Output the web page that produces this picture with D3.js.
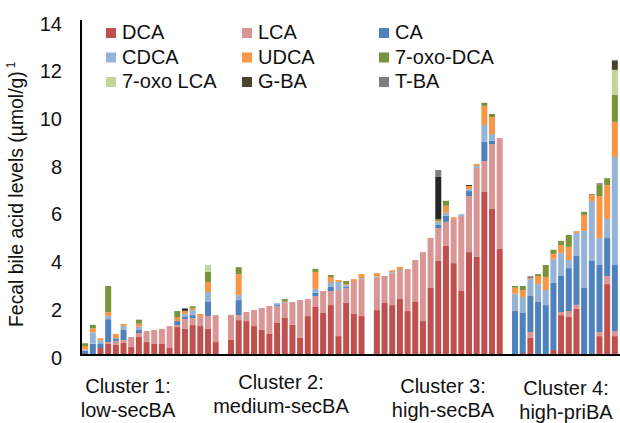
<!DOCTYPE html>
<html>
<head>
<meta charset="utf-8">
<script src="https://cdn.jsdelivr.net/npm/d3@7"></script>
<style>
  html, body { margin: 0; padding: 0; background: #fff; }
  svg { display: block; }
  text { font-family: "Liberation Sans", Arial, Helvetica, sans-serif; fill: #111; }
</style>
</head>
<body>
<svg id="chart" width="620" height="423"></svg>
<script>
// ---- Data -------------------------------------------------------------
const seriesNames = ["DCA", "LCA", "CA", "CDCA", "UDCA", "7-oxo-DCA", "7-oxo LCA", "G-BA", "T-BA"];
const seriesColors = ["#C0504D", "#DA9694", "#4F81BD", "#95B3D7", "#F79646", "#77933C", "#C3D69B", "#4A4529", "#808080"];

const clusterTitles = ["Cluster 1:", "Cluster 2:", "Cluster 3:", "Cluster 4:"];
const clusterGroups = ["low-secBA", "medium-secBA", "high-secBA", "high-priBA"];

const yTicks = [0, 2, 4, 6, 8, 10, 12, 14];

// µmol/g per sample, one sub-array per cluster
const DCA = [
  [0, 0, 0.25, 0.42, 0.38, 0.46, 0.29, 0.71, 0.5, 0.42, 0.42, 0.25, 1.13, 1.05, 1.21, 1.17, 1.05, 0.5],
  [0.59, 1.42, 1.38, 1.17, 1.01, 0.84, 1.30, 1.51, 1.22, 0.67, 1.59, 1.97, 1.72, 2.05, 0.75, 2.14, 1.68, 1.59],
  [1.84, 2.14, 2.05, 2.31, 1.80, 2.18, 1.38, 2.77, 3.90, 4.53, 3.81, 2.64, 4.27, 4.07, 6.79, 6.08, 4.40],
  [0, 0.04, 0.67, 0, 0, 0.17, 1.63, 1.55, 1.89, 0, 0, 0.75, 2.93, 0.75]
];
const LCA = [
  [0, 0, 0, 0.08, 0.17, 0.13, 0.42, 0.17, 0.46, 0.59, 0.63, 0.92, 0.08, 0.42, 0.29, 0.38, 0.54, 1.13],
  [1.05, 0.21, 0.38, 0.67, 0.92, 1.17, 0.71, 0.63, 0.96, 1.59, 0.71, 0.46, 0.92, 0.59, 1.93, 0.63, 1.38, 1.55],
  [1.38, 1.13, 1.34, 1.17, 1.76, 1.76, 2.89, 2.10, 1.38, 1.01, 1.84, 3.14, 2.35, 3.73, 1.30, 2.72, 4.65],
  [0, 0, 0.25, 0, 0, 0, 0.13, 0.25, 0.17, 0, 0, 0.17, 0.34, 0.21]
];
const CA = [
  [0.14, 0.43, 0.17, 0.96, 0.08, 0.42, 0, 0.13, 0, 0, 0, 0, 0.17, 0.08, 0.13, 0, 0.59, 0],
  [0, 0.63, 0, 0, 0, 0, 0.04, 0, 0, 0, 0, 0.13, 0, 0.17, 0, 0.04, 0, 0],
  [0, 0, 0, 0, 0, 0, 0, 0, 0.13, 0.25, 0, 0, 0.21, 0, 0.80, 0.13, 0],
  [1.80, 1.68, 1.51, 2.18, 2.05, 2.81, 1.51, 1.80, 2.05, 2.77, 3.90, 2.81, 1.59, 2.77]
];
const CDCA = [
  [0.05, 0.48, 0.16, 0.13, 0.04, 0.17, 0, 0.13, 0, 0, 0, 0, 0, 0.13, 0.21, 0, 0.42, 0],
  [0, 0.21, 0, 0, 0, 0, 0.08, 0.04, 0, 0, 0, 0.17, 0, 0.21, 0.34, 0.08, 0, 0.04],
  [0.04, 0, 0.04, 0.04, 0, 0, 0, 0, 0.13, 0.13, 0, 0.08, 0.08, 0.08, 0.71, 0.29, 0],
  [0.73, 0.67, 0.71, 0.75, 0.63, 1.01, 0.96, 0.34, 0.96, 2.39, 2.51, 1.13, 0.80, 4.53]
];
const UDCA = [
  [0.14, 0.17, 0.08, 0.17, 0.17, 0.08, 0, 0.13, 0, 0, 0, 0, 0.17, 0.13, 0.08, 0.13, 0.42, 0],
  [0, 0.88, 0, 0, 0, 0, 0, 0.04, 0, 0, 0, 0.71, 0, 0.21, 0.08, 0.04, 0.08, 0.17],
  [0.13, 0, 0.08, 0.13, 0, 0, 0, 0, 0.04, 0.29, 0.08, 0, 0.13, 0.08, 0.80, 0.71, 0],
  [0.25, 0.29, 0.04, 0.34, 0.55, 0.21, 0.34, 0.55, 0.08, 0.67, 0.25, 1.76, 1.42, 1.47]
];
const OXO_DCA = [
  [0.12, 0.14, 0, 1.09, 0, 0, 0, 0.17, 0, 0, 0, 0, 0.25, 0, 0.08, 0, 0.42, 0],
  [0, 0.29, 0, 0, 0, 0, 0, 0.08, 0, 0, 0, 0.13, 0, 0.08, 0, 0.13, 0, 0],
  [0, 0, 0, 0, 0, 0, 0, 0, 0.08, 0.21, 0, 0, 0, 0, 0.13, 0.13, 0],
  [0.07, 0.17, 0, 0.08, 0.50, 0.17, 0.17, 0.50, 0, 0.13, 0, 0.50, 0.29, 1.13]
];
const OXO_LCA = [
  [0, 0, 0, 0, 0, 0, 0, 0, 0, 0, 0, 0, 0, 0, 0, 0, 0.29, 0],
  [0, 0, 0, 0, 0, 0, 0, 0, 0, 0, 0, 0, 0, 0, 0, 0, 0, 0],
  [0, 0, 0, 0, 0, 0, 0, 0, 0, 0, 0, 0, 0, 0, 0, 0, 0],
  [0, 0, 0, 0, 0, 0, 0, 0, 0, 0, 0, 0, 0, 1.05]
];
const G_BA = [
  [0, 0, 0, 0, 0, 0, 0, 0, 0, 0, 0, 0, 0, 0.08, 0, 0, 0, 0],
  [0, 0, 0, 0, 0, 0, 0, 0, 0, 0, 0, 0, 0, 0, 0, 0, 0, 0],
  [0, 0, 0, 0, 0, 0, 0, 0, 1.76, 0, 0, 0, 0.04, 0, 0, 0, 0],
  [0, 0, 0, 0, 0, 0, 0, 0, 0, 0, 0, 0, 0, 0.38]
];
const T_BA = [
  [0, 0, 0, 0, 0, 0, 0, 0, 0, 0, 0, 0, 0, 0.04, 0, 0, 0, 0],
  [0, 0, 0, 0, 0, 0, 0, 0, 0, 0, 0, 0, 0, 0, 0, 0, 0, 0],
  [0, 0, 0, 0, 0, 0, 0, 0, 0.29, 0, 0, 0, 0, 0, 0, 0, 0],
  [0, 0, 0.08, 0, 0, 0, 0, 0, 0, 0, 0.04, 0.04, 0, 0.04]
];

// G-BA segments drawn in charcoal rather than the series olive: [cluster, sample]
const gbaCharcoal = [[0, 13], [2, 8], [2, 12]];

const seriesValues = [DCA, LCA, CA, CDCA, UDCA, OXO_DCA, OXO_LCA, G_BA, T_BA];

// ---- Layout -------------------------------------------------------------
const W = 620, H = 423;
const plot = { left: 81, right: 619, top: 20, bottom: 354 };

// One band slot per sample, plus an empty slot between clusters
const rows = [];
let slot = 0;
DCA.forEach((cluster, c) => {
  if (c > 0) slot++;
  cluster.forEach((_, i) => {
    const row = { slot: slot, cluster: c, index: i };
    seriesNames.forEach((name, s) => { row[name] = seriesValues[s][c][i]; });
    rows.push(row);
    slot++;
  });
});
const slotCount = slot;

const x = d3.scaleBand()
  .domain(d3.range(slotCount))
  .range([plot.left, plot.right])
  .paddingInner(0.218)
  .paddingOuter(0.15);

const y = d3.scaleLinear()
  .domain([0, 14])
  .range([plot.bottom, plot.top]);

const color = d3.scaleOrdinal().domain(seriesNames).range(seriesColors);

const svg = d3.select("#chart");
svg.append("rect").attr("width", W).attr("height", H).attr("fill", "#fff");

// ---- Stacked bars ------------------------------------------------------
const stacked = d3.stack().keys(seriesNames)(rows);
const isCharcoal = (d) => gbaCharcoal.some(([c, i]) => c === d.data.cluster && i === d.data.index);

svg.append("g")
  .selectAll("g")
  .data(stacked)
  .join("g")
  .each(function (layer) {
    d3.select(this).selectAll("rect")
      .data(layer.filter(d => d[1] - d[0] > 0))
      .join("rect")
      .attr("x", d => x(d.data.slot))
      .attr("width", x.bandwidth())
      .attr("y", d => y(d[1]))
      .attr("height", d => y(d[0]) - y(d[1]))
      .attr("fill", d => (layer.key === "G-BA" && isCharcoal(d)) ? "#262626" : color(layer.key));
  });

// ---- Axes --------------------------------------------------------------
const yAxis = svg.append("g")
  .attr("transform", `translate(${plot.left},0)`)
  .call(d3.axisLeft(y).tickValues(yTicks).tickSize(0).tickSizeOuter(0).tickPadding(19));
yAxis.select(".domain")
  .attr("stroke", "#000").attr("stroke-width", 2)
  .attr("d", `M0,${plot.top}V${plot.bottom + 2}`);
yAxis.selectAll(".tick text")
  .attr("dy", "0.5em")
  .style("font-size", "20px")
  .style("font-family", "'Liberation Sans', Arial, sans-serif")
  .attr("fill", "#111");

svg.append("line")
  .attr("x1", plot.left - 1).attr("x2", W)
  .attr("y1", plot.bottom + 1).attr("y2", plot.bottom + 1)
  .attr("stroke", "#000").attr("stroke-width", 2);

// Y-axis title
const title = svg.append("text")
  .attr("transform", "translate(23,327) rotate(-90)")
  .attr("text-anchor", "start")
  .style("font-size", "19.4px");
title.append("tspan").text("Fecal bile acid levels (µmol/g)");
title.append("tspan").attr("dx", 3).attr("dy", -8).style("font-size", "12px").text("1");

// ---- Cluster labels ----------------------------------------------------
const clusterLabelX = [128, 281, 443, 566];
const clusterLabelY = [393, 389, 393, 395];
clusterTitles.forEach((t, c) => {
  const g = svg.append("text")
    .attr("text-anchor", "middle")
    .style("font-size", "20px");
  g.append("tspan").attr("x", clusterLabelX[c]).attr("y", clusterLabelY[c]).text(t);
  g.append("tspan").attr("x", clusterLabelX[c]).attr("y", clusterLabelY[c] + 24).text(clusterGroups[c]);
});

// ---- Legend (3 columns x 3 rows) ---------------------------------------
const legendColX = [106, 242, 379];
const legendRowY = [39, 63.5, 88];
const legend = svg.append("g");
seriesNames.forEach((name, i) => {
  const col = i % 3, row = Math.floor(i / 3);
  const lx = legendColX[col], ly = legendRowY[row];
  legend.append("rect")
    .attr("x", lx).attr("y", ly - 11)
    .attr("width", 10).attr("height", 10)
    .attr("fill", color(name));
  legend.append("text")
    .attr("x", lx + 16).attr("y", ly)
    .style("font-size", "20px")
    .text(name);
});
</script>
</body>
</html>
